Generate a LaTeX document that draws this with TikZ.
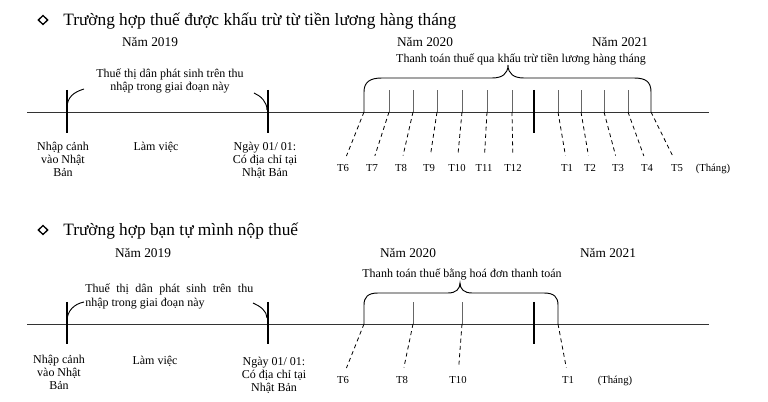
\documentclass[tikz,border=0pt]{standalone}
\usepackage{fontspec}
\setmainfont{Liberation Serif}
\usetikzlibrary{shapes.geometric}
\tikzset{
	axis/.style={line width=0.6pt, color=black!80},
	marker/.style={line width=2.2pt},
	tickmark/.style={line width=0.6pt, color=black!60},
	guide/.style={line width=0.6pt, dash pattern=on 3pt off 2.5pt, shorten >=7pt},
	bracket/.style={line width=0.7pt},
	bulletmark/.style={diamond, draw, line width=1pt, minimum width=7.5pt, minimum height=7pt, inner sep=0},
	heading/.style={font=\fontsize{13}{15}\selectfont, anchor=base west, inner sep=0},
	year/.style={font=\fontsize{10}{12}\selectfont, anchor=base, inner sep=0},
	note/.style={font=\fontsize{9}{9.8}\selectfont, align=center, inner sep=0},
	month/.style={font=\fontsize{8}{9}\selectfont, anchor=base, inner sep=0},
}

\begin{document}
\begin{tikzpicture}[x=0.75pt, y=-0.75pt]
		%%%%% START %%%%%
		\useasboundingbox (0,0) rectangle (768,402);
		
		%%%%% withheld from the monthly salary %%%%%
		\node[bulletmark] (dia1) at (43,20) {};
		\node[heading] (head1) at (63,26) {Trường hợp thuế được khấu trừ từ tiền lương hàng tháng};
		\node[year] (ya19) at (150,47) {Năm 2019};
		\node[year] (ya20) at (425,47) {Năm 2020};
		\node[year] (ya21) at (620,47) {Năm 2021};
		\node[note, anchor=base] (paya) at (521,63) {Thanh toán thuế qua khấu trừ tiền lương hàng tháng};
		\node[note] (resa) at (170,81) {Thuế thị dân phát sinh trên thu\\nhập trong giai đoạn này};
		
		\coordinate (sa) at (27,112);
		\coordinate (ea) at (709,112);
		\draw[axis] (sa) -- (ea);
		
		\draw[marker] (67,90) -- (67,133);
		\draw[marker] (268,90) -- (268,133);
		\draw[marker] (534,90) -- (534,133);
		\draw[bracket] (67,108) .. controls (67,97) and (74,92) .. (84,89);
		\draw[bracket] (254,93) .. controls (261,96) and (267,102) .. (267,110);
		
		\node[note] (ina) at (63,159) {Nhập cảnh\\vào Nhật\\Bản};
		\node[note, anchor=base] (wka) at (156,151) {Làm việc};
		\node[note] (ada) at (265,160) {Ngày 01/ 01:\\Có địa chỉ tại\\Nhật Bản};
		
		\draw[bracket] (364,112) -- (364,92) .. controls (364,82) and (370,78) .. (382,78) -- (492,78)
			.. controls (502,78) and (508,74) .. (508,65) .. controls (508,74) and (514,78) .. (524,78)
			-- (634,78) .. controls (646,78) and (651,82) .. (651,92) -- (651,112);
		
		\coordinate (ta6) at (364,112);
		\coordinate (ta7) at (389,112);
		\coordinate (ta8) at (413,112);
		\coordinate (ta9) at (437,112);
		\coordinate (ta10) at (462,112);
		\coordinate (ta11) at (487,112);
		\coordinate (ta12) at (512,112);
		\coordinate (ta1) at (558,112);
		\coordinate (ta2) at (581,112);
		\coordinate (ta3) at (604,112);
		\coordinate (ta4) at (628,112);
		\coordinate (ta5) at (651,112);
		
		\draw[tickmark] (ta7) -- ++(0,-22);
		\draw[tickmark] (ta8) -- ++(0,-22);
		\draw[tickmark] (ta9) -- ++(0,-22);
		\draw[tickmark] (ta10) -- ++(0,-22);
		\draw[tickmark] (ta11) -- ++(0,-22);
		\draw[tickmark] (ta12) -- ++(0,-22);
		\draw[tickmark] (ta1) -- ++(0,-22);
		\draw[tickmark] (ta2) -- ++(0,-22);
		\draw[tickmark] (ta3) -- ++(0,-22);
		\draw[tickmark] (ta4) -- ++(0,-22);
		
		\node[month] (la6) at (343,172) {T6};
		\node[month] (la7) at (372,172) {T7};
		\node[month] (la8) at (401,172) {T8};
		\node[month] (la9) at (429,172) {T9};
		\node[month] (la10) at (457,172) {T10};
		\node[month] (la11) at (484,172) {T11};
		\node[month] (la12) at (513,172) {T12};
		\node[month] (la1) at (567,172) {T1};
		\node[month] (la2) at (590,172) {T2};
		\node[month] (la3) at (618,172) {T3};
		\node[month] (la4) at (647,172) {T4};
		\node[month] (la5) at (677,172) {T5};
		\node[month] (una) at (713,172) {(Tháng)};
		
		\draw[guide] (ta6) -- (la6.north);
		\draw[guide] (ta7) -- (la7.north);
		\draw[guide] (ta8) -- (la8.north);
		\draw[guide] (ta9) -- (la9.north);
		\draw[guide] (ta10) -- (la10.north);
		\draw[guide] (ta11) -- (la11.north);
		\draw[guide] (ta12) -- (la12.north);
		\draw[guide] (ta1) -- (la1.north);
		\draw[guide] (ta2) -- (la2.north);
		\draw[guide] (ta3) -- (la3.north);
		\draw[guide] (ta4) -- (la4.north);
		\draw[guide] (ta5) -- (la5.north);
		
		%%%%% paying the tax yourself %%%%%
		\node[bulletmark] (dia2) at (43,230) {};
		\node[heading] (head2) at (63,236) {Trường hợp bạn tự mình nộp thuế};
		\node[year] (yb19) at (143,258) {Năm 2019};
		\node[year] (yb20) at (408,258) {Năm 2020};
		\node[year] (yb21) at (608,258) {Năm 2021};
		\node[note, anchor=base] (payb) at (462,278) {Thanh toán thuế bằng hoá đơn thanh toán};
		\node[note, align=left, anchor=north west] (resb) at (85,284) {\makebox[126pt][s]{Thuế thị dân phát sinh trên thu}\\nhập trong giai đoạn này};
		
		\coordinate (sb) at (27,324);
		\coordinate (eb) at (709,324);
		\draw[axis] (sb) -- (eb);
		
		\draw[marker] (67,302) -- (67,344);
		\draw[marker] (268,302) -- (268,344);
		\draw[marker] (534,302) -- (534,344);
		\draw[bracket] (67,321) .. controls (67,311) and (74,304) .. (84,302);
		\draw[bracket] (253,303) .. controls (260,306) and (267,311) .. (267,318);
		
		\node[note] (inb) at (59,372) {Nhập cảnh\\vào Nhật\\Bản};
		\node[note, anchor=base] (wkb) at (155,365) {Làm việc};
		\node[note] (adb) at (274,375) {Ngày 01/ 01:\\Có địa chỉ tại\\Nhật Bản};
		
		\draw[bracket] (364,324) -- (364,305) .. controls (364,297) and (368,293) .. (378,293) -- (448,293)
			.. controls (456,293) and (460,289) .. (460,283) .. controls (460,289) and (464,293) .. (472,293)
			-- (544,293) .. controls (554,293) and (558,297) .. (558,305) -- (558,324);
		
		\coordinate (tb6) at (364,324);
		\coordinate (tb8) at (413,324);
		\coordinate (tb10) at (462,324);
		\coordinate (tb1) at (558,324);
		\draw[tickmark] (tb8) -- ++(0,-22);
		\draw[tickmark] (tb10) -- ++(0,-22);
		
		\node[month] (lb6) at (343,384) {T6};
		\node[month] (lb8) at (402,384) {T8};
		\node[month] (lb10) at (458,384) {T10};
		\node[month] (lb1) at (568,384) {T1};
		\node[month] (unb) at (615,384) {(Tháng)};
		
		\draw[guide] (tb6) -- (lb6.north);
		\draw[guide] (tb8) -- (lb8.north);
		\draw[guide] (tb10) -- (lb10.north);
		\draw[guide] (tb1) -- (lb1.north);
		
		%%%%% END %%%%%
\end{tikzpicture}
\end{document}
